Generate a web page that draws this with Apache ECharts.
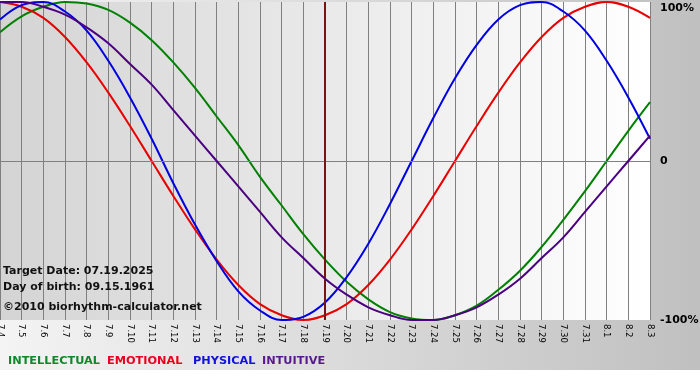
<!DOCTYPE html>
<html>
<head>
<meta charset="utf-8">
<script src="https://cdn.jsdelivr.net/npm/echarts@6/dist/echarts.min.js"></script>
<style>html,body{margin:0;padding:0;background:#fff}#c{width:700px;height:380px}</style>
</head>
<body>
<div id="c"></div>
<script>
var days = ['7.4','7.5','7.6','7.7','7.8','7.9','7.10','7.11','7.12','7.13','7.14','7.15','7.16','7.17','7.18','7.19','7.20','7.21','7.22','7.23','7.24','7.25','7.26','7.27','7.28','7.29','7.30','7.31','8.1','8.2','8.3'];
var intellectual = [81,91,97,100,99,95,87,76,62,46,28,10,-10,-28,-46,-62,-76,-87,-95,-99,-100,-97,-91,-81,-69,-54,-37,-19,0,19,37];
var emotional = [100,97,90,78,62,43,22,0,-22,-43,-62,-78,-90,-97,-100,-97,-90,-78,-62,-43,-22,0,22,43,62,78,90,97,100,97,90];
var physical = [89,98,100,94,82,63,40,14,-14,-40,-63,-82,-94,-100,-98,-89,-73,-52,-27,0,27,52,73,89,98,100,94,82,63,40,14];
var intuitive = [100,100,97,92,84,74,61,48,32,16,0,-16,-32,-48,-61,-74,-84,-92,-97,-100,-100,-97,-92,-84,-74,-61,-48,-32,-16,0,16];
var yTicks = [-100, 0, 100];
var targetDay = '7.19';
var infoLines = ['Target Date: 07.19.2025', 'Day of birth: 09.15.1961', '\u00a92010 biorhythm-calculator.net'];
var legendNames = ['INTELLECTUAL', 'EMOTIONAL', 'PHYSICAL', 'INTUITIVE'];

var chart = echarts.init(document.getElementById('c'), null, {renderer: 'canvas'});
var FONT = '"DejaVu Sans", Verdana, sans-serif';
var lineColors = ['#008000', '#e80000', '#0000e0', '#4b0082'];
var legendColors = ['#12872a', '#e8001c', '#1010e0', '#5a1890'];
var legendLeft = [8, 107, 193, 262];
var seriesData = [intellectual, emotional, physical, intuitive];

var series = seriesData.map(function (d, i) {
  return {
    name: legendNames[i], type: 'line', data: d, smooth: 0.4, symbol: 'none', z: 2 + i,
    lineStyle: {color: lineColors[i], width: 2}, itemStyle: {color: lineColors[i]}, animation: false
  };
});
series[0].markLine = {
  silent: true, symbol: 'none', animation: false, label: {show: false},
  data: [
    {yAxis: 0, lineStyle: {color: '#808080', width: 1, type: 'solid'}},
    {xAxis: targetDay, lineStyle: {color: '#7a1414', width: 2, type: 'solid'}}
  ]
};

var titles = [
  {
    text: infoLines[0] + '\n' + infoLines[1], left: 3, top: 263, padding: 0,
    textStyle: {fontSize: 11, fontWeight: 'bold', fontFamily: FONT, color: '#111', lineHeight: 16}
  },
  {
    text: infoLines[2], left: 3, top: 299, padding: 0,
    textStyle: {fontSize: 11, fontWeight: 'bold', fontFamily: FONT, color: '#111', lineHeight: 16}
  }
];
legendNames.forEach(function (n, i) {
  titles.push({
    text: n, left: legendLeft[i], top: 353, padding: 0,
    textStyle: {fontSize: 11.3, fontWeight: 'bold', fontFamily: FONT, color: legendColors[i], lineHeight: 16}
  });
});

chart.setOption({
  animation: false,
  backgroundColor: new echarts.graphic.LinearGradient(0, 0, 1, 0, [
    {offset: 0, color: '#f4f4f4'}, {offset: 1, color: '#c0c0c0'}
  ]),
  grid: {
    left: 0, right: 50, top: 2, bottom: 60, show: true, borderWidth: 0,
    outerBoundsMode: 'none', containLabel: false,
    backgroundColor: new echarts.graphic.LinearGradient(0, 0, 1, 0, [
      {offset: 0, color: '#d4d4d4'}, {offset: 1, color: '#ffffff'}
    ])
  },
  xAxis: {
    type: 'category', data: days, boundaryGap: false,
    axisLine: {show: true, lineStyle: {color: '#808080', width: 1}},
    axisTick: {show: true, interval: 0, length: 3, lineStyle: {color: '#808080'}},
    axisLabel: {interval: 0, rotate: -90, fontSize: 8.5, fontFamily: FONT, color: '#000', margin: 4, hideOverlap: false},
    splitLine: {show: true, interval: 0, lineStyle: {color: '#808080', width: 1}}
  },
  yAxis: {
    type: 'value', position: 'right', min: yTicks[0], max: yTicks[2], interval: 100,
    axisLine: {show: false}, axisTick: {show: false},
    splitLine: {show: false},
    axisLabel: {
      margin: 10, fontSize: 11, fontWeight: 'bold', fontFamily: FONT, color: '#000',
      formatter: function (v) {
        if (v === 100) return '{t|100%}';
        if (v === 0) return '{n|0}';
        return '{n|' + v + '%}';
      },
      rich: {
        t: {fontSize: 11, fontWeight: 'bold', fontFamily: FONT, color: '#000', padding: [12, 0, 0, 0]},
        n: {fontSize: 11, fontWeight: 'bold', fontFamily: FONT, color: '#000'}
      }
    }
  },
  title: titles,
  graphic: [
    {type: 'rect', left: 0, top: 370, shape: {width: 700, height: 10}, style: {fill: '#ffffff'}, z: -1, silent: true}
  ],
  series: series
});
</script>
</body>
</html>
